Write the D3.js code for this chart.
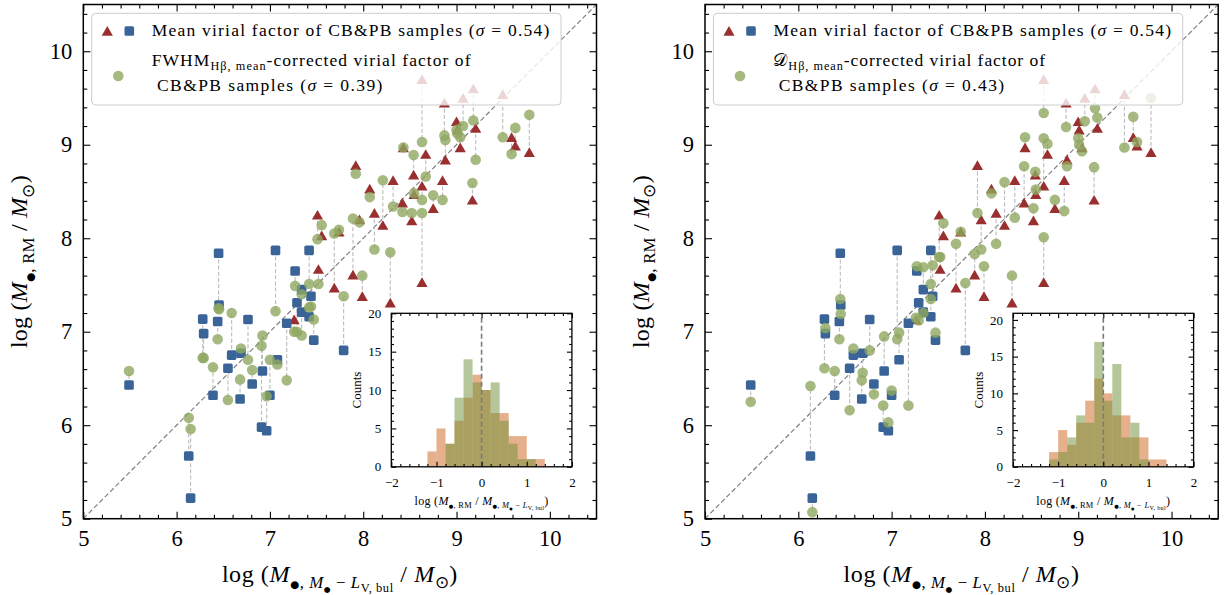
<!DOCTYPE html>
<html><head><meta charset="utf-8">
<script src="https://cdn.jsdelivr.net/npm/d3@7"></script>
<style>
body{margin:0;background:#fff}
svg{display:block}
text{font-family:"Liberation Serif","Times New Roman",serif;fill:#000}
</style>
</head><body>
<svg id="c" width="1225" height="595"></svg>
<script>
// ---------------- DATA ----------------
// log M_BH from the M-L_V,bul relation (x), for each object
const bulgeMass = [
 5.49,6.13,6.15,6.28,6.29,6.39,6.45,6.455,6.44,6.55,
 6.59,6.69,6.68,6.765,6.81,6.91,6.92,6.965,7.00,7.06,
 7.08,7.18,7.27,7.29,7.34,7.34,7.42,7.44,7.42,7.47,
 7.79,
 7.26,7.52,7.51,7.555,7.69,7.74,7.89,7.92,7.96,7.99,
 8.07,8.12,8.21,8.29,8.32,8.42,8.43,8.54,8.52,8.545,
 8.63,8.63,8.63,8.67,8.75,8.85,8.87,8.88,9.00,9.01,
 9.04,9.07,9.18,9.205,9.17,9.495,9.59,9.63,9.78];
// log M_BH,RM with the mean virial factor
const rmMassMean = [
 6.43,5.67,5.22,7.135,6.98,6.32,7.84,7.285,7.11,6.61,
 6.75,6.77,6.28,7.13,6.44,5.98,6.58,5.94,6.32,7.87,
 6.70,7.09,7.65,7.31,7.45,7.21,7.87,7.38,7.16,6.91,
 6.80,
 7.13,7.67,8.25,8.03,7.47,8.07,7.61,8.78,8.20,7.38,
 8.53,8.27,8.14,7.31,8.62,8.38,8.97,8.68,8.19,8.47,
 9.70,7.53,8.56,8.90,8.32,8.62,9.45,8.84,9.25,9.16,
 8.97,9.50,9.60,9.18,8.41,9.54,9.08,8.99,8.92];
// P = pseudo-bulge (square), C = classical bulge (triangle)
const sampleType = ('PPPPPPPPPPPPPPPPPPPPPPPPPPPPPPP' +
                    'CCCCCCCCCCCCCCCCCCCCCCCCCCCCCCCCCCCCCCC').split('');
// log M_BH,RM with FWHM-corrected virial factor (left panel)
const rmMassFWHM = [
 6.58,6.08,5.96,6.72,6.72,6.62,7.25,7.24,6.92,6.27,
 7.20,6.82,6.49,6.70,6.59,6.85,6.96,6.31,6.70,7.22,
 6.65,6.48,7.49,7.00,7.40,6.96,7.51,7.27,7.26,7.13,
 7.38,
 7.00,7.51,7.99,8.14,8.05,8.09,8.21,8.69,8.17,7.60,
 8.44,7.88,8.62,7.85,8.34,8.28,8.97,8.89,8.27,8.48,
 9.03,8.27,8.41,8.66,8.46,8.41,9.10,9.05,9.16,9.12,
 9.08,9.20,9.26,8.84,8.59,9.08,8.90,9.18,9.32];
// log M_BH,RM with D-corrected virial factor (right panel)
const rmMassD = [
 6.25,6.42,5.07,6.61,7.04,6.58,7.35,7.19,6.92,6.16,
 6.82,6.56,6.48,6.80,6.33,6.21,6.95,6.03,6.37,6.92,
 6.99,6.21,7.70,7.12,7.69,7.20,7.51,7.71,7.35,6.99,
 7.52,
 7.15,7.80,7.80,8.16,7.94,8.07,7.83,8.27,7.88,7.70,
 8.48,7.94,8.60,7.60,8.22,8.77,9.08,8.71,8.32,8.52,
 9.34,8.01,9.07,9.01,8.41,8.29,9.19,8.77,9.07,9.00,
 8.93,9.25,9.39,9.29,8.76,8.97,9.30,9.03,9.50];

// histogram of log(M_RM / M_bul-relation)
const binEdges  = [-1.2,-1.0,-0.8,-0.6,-0.4,-0.2,0,0.2,0.4,0.6,0.8,1.0,1.2,1.4];
const histMean  = [2,5,3,6,9,12,10,7,7,4,4,1,1];
const histFWHM  = [0,0,3,9,14,11,10,11,6,3,1,1,0];
const histD     = [1,2,4,7,6,17,9,14,4,6,1,0,0];

const axisTicks      = [5,6,7,8,9,10];
const axisTickLabels = ['5','6','7','8','9','10'];
const insetXTicks    = [-2,-1,0,1,2];
const insetXLabels   = ['\u22122','\u22121','0','1','2'];
const insetYTicks    = [0,5,10,15,20];
const insetYLabels   = ['0','5','10','15','20'];
const sigmaMean = '0.54', sigmaFWHM = '0.39', sigmaD = '0.43';

// ---------------- DRAWING ----------------
const svg = d3.select('#c');
const COL_TRI = '#9a2f2f', COL_SQ = '#3a6497', COL_CIR = '#8ea760';
const BUL = {t: '\u25cf', k: 0.62, f: 'DejaVu Sans, sans-serif'};

function rich(parent, x, y, segs, size, anchor, transform) {
  const t = parent.append('text').attr('x', x).attr('y', y)
    .attr('font-size', size).attr('text-anchor', anchor || 'start');
  if (transform) t.attr('transform', transform);
  let cur = 0;
  segs.forEach(s => {
    const lv = s.l || 0;
    const shift = [0, 0.26, 0.42][lv] * size;
    const fs = [1, 0.7, 0.52][lv] * size * (s.k || 1);
    const sp = t.append('tspan').attr('dy', (shift - cur).toFixed(2))
      .attr('font-size', fs.toFixed(2)).text(s.t);
    if (s.i) sp.attr('font-style', 'italic');
    if (s.f) sp.attr('font-family', s.f);
    cur = shift;
  });
  return t;
}
function fit(t, target) {
  const w = t.node().getBBox().width;
  const n = t.text().length;
  if (w > 0 && n > 1) t.attr('letter-spacing', ((target - w) / n).toFixed(3));
}
function styleAxis(sel, fs) {
  sel.attr('font-size', fs).attr('font-family', null);
  sel.select('.domain').remove();
  sel.selectAll('.tick line').attr('stroke', '#000').attr('stroke-width', 1.1);
}
function boxAxes(g, x, y, o) {
  const [X0, X1] = x.range(), [Y0, Y1] = y.range();
  const defs = [
    ['axisBottom', x, `translate(0,${Y0})`, o.xMaj, o.xLab, o.xMin],
    ['axisTop', x, `translate(0,${Y1})`, o.xMaj, null, o.xMin],
    ['axisLeft', y, `translate(${X0},0)`, o.yMaj, o.yLab, o.yMin],
    ['axisRight', y, `translate(${X1},0)`, o.yMaj, null, o.yMin]];
  defs.forEach(([fn, sc, tr, maj, lab, mn]) => {
    const a = d3[fn](sc).tickValues(maj).tickSize(-o.majLen)
      .tickPadding(fn === 'axisBottom' ? o.padX : o.padY)
      .tickFormat(lab ? (d, i) => lab[i] : () => '');
    styleAxis(g.append('g').attr('transform', tr).call(a), o.fs);
    const b = d3[fn](sc).tickValues(mn).tickSize(-o.minLen).tickFormat(() => '');
    styleAxis(g.append('g').attr('transform', tr).call(b), o.fs);
  });
  g.append('rect').attr('x', X0).attr('y', Y1).attr('width', X1 - X0).attr('height', Y0 - Y1)
    .attr('fill', 'none').attr('stroke', '#000').attr('stroke-width', o.frame || 1.5);
}

function panel(o) {
  const g = svg.append('g');
  const x = d3.scaleLinear().domain([5, 10.5]).range([o.left, o.left + 513.2]);
  const y = d3.scaleLinear().domain([5, 10.5]).range([518.7, 4.5]);
  const idx = d3.range(bulgeMass.length);

  g.append('line').attr('x1', x(5)).attr('y1', y(5)).attr('x2', x(10.5)).attr('y2', y(10.5))
    .attr('stroke', '#808080').attr('stroke-width', 1.2).attr('stroke-dasharray', '5,2.6');

  g.append('g').selectAll('line').data(idx).join('line')
    .attr('x1', i => x(bulgeMass[i])).attr('x2', i => x(bulgeMass[i]))
    .attr('y1', i => y(rmMassMean[i])).attr('y2', i => y(o.corr[i]))
    .attr('stroke', '#bcbcbc').attr('stroke-width', 1.1).attr('stroke-dasharray', '4,2.2');

  const tri = d3.symbol(d3.symbolTriangle, 54);
  g.append('g').selectAll('path').data(idx.filter(i => sampleType[i] === 'C')).join('path')
    .attr('d', tri).attr('fill', COL_TRI)
    .attr('transform', i => `translate(${x(bulgeMass[i])},${y(rmMassMean[i]) + 1.5})`);
  g.append('g').selectAll('rect').data(idx.filter(i => sampleType[i] === 'P')).join('rect')
    .attr('x', i => x(bulgeMass[i]) - 4.8).attr('y', i => y(rmMassMean[i]) - 4.8)
    .attr('width', 9.6).attr('height', 9.6).attr('rx', 1.6).attr('fill', COL_SQ);
  g.append('g').selectAll('circle').data(idx).join('circle')
    .attr('cx', i => x(bulgeMass[i])).attr('cy', i => y(o.corr[i])).attr('r', 5.3)
    .attr('fill', COL_CIR).attr('fill-opacity', 0.8);

  // legend
  const L = o.left;
  const lg = g.append('g');
  lg.append('rect').attr('x', L + 8.4).attr('y', 13.3).attr('width', 469.3).attr('height', 91.7)
    .attr('rx', 4).attr('fill', '#fff').attr('fill-opacity', 0.8)
    .attr('stroke', '#cccccc').attr('stroke-width', 1);
  lg.append('path').attr('d', d3.symbol(d3.symbolTriangle, 54)).attr('fill', COL_TRI)
    .attr('transform', `translate(${L + 24},${32.5})`);
  lg.append('rect').attr('x', L + 46 - 4.8).attr('y', 31 - 4.8).attr('width', 9.6).attr('height', 9.6)
    .attr('rx', 1.6).attr('fill', COL_SQ);
  lg.append('circle').attr('cx', L + 35).attr('cy', 76).attr('r', 5.3)
    .attr('fill', COL_CIR).attr('fill-opacity', 0.8);
  const t1 = rich(lg, L + 68.4, 35.5, [{t: 'Mean virial factor of CB&PB samples ('}, {t: '\u03c3', i: 1}, {t: ' = ' + sigmaMean + ')'}], 17.5);
  fit(t1, 399);
  const t2 = rich(lg, L + 68.4, 65.7, o.leg2, 17.5);
  fit(t2, o.leg2w);
  const t3 = rich(lg, L + 73.7, 90.7, [{t: 'CB&PB samples ('}, {t: '\u03c3', i: 1}, {t: ' = ' + o.sigma + ')'}], 17.5);
  fit(t3, 227);

  boxAxes(g, x, y, {
    xMaj: axisTicks, yMaj: axisTicks, xLab: axisTickLabels, yLab: axisTickLabels,
    xMin: d3.range(50, 105, 2).filter(v => v % 10).map(v => v / 10),
    yMin: d3.range(50, 105, 2).filter(v => v % 10).map(v => v / 10),
    majLen: 7, minLen: 4, fs: 22.5, padX: 11, padY: 11
  });

  // axis labels
  const xl = rich(g, (x.range()[0] + x.range()[1]) / 2, 582,
    [{t: 'log ('}, {t: 'M', i: 1}, Object.assign({l: 1}, BUL), {t: ', ', l: 1}, {t: 'M', i: 1, l: 1},
     Object.assign({l: 2}, BUL),
     {t: ' \u2212 ', l: 1}, {t: 'L', i: 1, l: 1}, {t: 'V, bul', l: 2}, {t: ' / '}, {t: 'M', i: 1},
     {t: '\u2299', l: 1}, {t: ')'}], 24, 'middle');
  fit(xl, 236);
  const yl = rich(g, 0, 0,
    [{t: 'log ('}, {t: 'M', i: 1}, Object.assign({l: 1}, BUL), {t: ', RM', l: 1}, {t: ' / '}, {t: 'M', i: 1},
     {t: '\u2299', l: 1}, {t: ')'}], 24, 'middle',
    `translate(${o.left - 56},261.6) rotate(-90)`);
  fit(yl, 173);

  // inset histogram
  const ig = g.append('g');
  const ix = d3.scaleLinear().domain([-2, 2]).range([o.left + 308, o.left + 488.6]);
  const iy = d3.scaleLinear().domain([0, o.ymax]).range([466.8, 313.3]);
  ig.append('rect').attr('x', ix(-2)).attr('y', iy(o.ymax)).attr('width', ix(2) - ix(-2))
    .attr('height', iy(0) - iy(o.ymax)).attr('fill', '#fff');
  const bins = d3.range(histMean.length);
  ig.append('g').selectAll('rect').data(bins).join('rect')
    .attr('x', i => ix(binEdges[i])).attr('width', i => ix(binEdges[i + 1]) - ix(binEdges[i]))
    .attr('y', i => iy(histMean[i])).attr('height', i => iy(0) - iy(histMean[i]))
    .attr('fill', '#cd6119').attr('fill-opacity', 0.5);
  ig.append('g').selectAll('rect').data(bins).join('rect')
    .attr('x', i => ix(binEdges[i])).attr('width', i => ix(binEdges[i + 1]) - ix(binEdges[i]))
    .attr('y', i => iy(o.hist[i])).attr('height', i => iy(0) - iy(o.hist[i]))
    .attr('fill', '#6b8f35').attr('fill-opacity', 0.5);
  ig.append('line').attr('x1', ix(0)).attr('x2', ix(0)).attr('y1', iy(0)).attr('y2', iy(o.ymax))
    .attr('stroke', '#7a7a7a').attr('stroke-width', 1.6).attr('stroke-dasharray', '5,3');
  boxAxes(ig, ix, iy, {
    xMaj: insetXTicks, yMaj: insetYTicks, xLab: insetXLabels, yLab: insetYLabels,
    xMin: d3.range(-20, 21, 2).filter(v => v % 10).map(v => v / 10),
    yMin: d3.range(0, 21).filter(v => v % 5),
    majLen: 5, minLen: 2.7, fs: 13, padX: 11, padY: 10, frame: 1.3
  });
  rich(ig, 0, 0, [{t: 'Counts'}], 13, 'middle',
    `translate(${ix(-2) - 30},${(iy(0) + iy(o.ymax)) / 2}) rotate(-90)`);
  const il = rich(ig, (ix(-2) + ix(2)) / 2, 504.5,
    [{t: 'log ('}, {t: 'M', i: 1}, Object.assign({l: 1}, BUL), {t: ', RM', l: 1}, {t: ' / '}, {t: 'M', i: 1},
     Object.assign({l: 1}, BUL), {t: ', ', l: 1},
     {t: 'M', i: 1, l: 1}, Object.assign({l: 2}, BUL), {t: ' \u2212 ', l: 1}, {t: 'L', i: 1, l: 1},
     {t: 'V, bul', l: 2}, {t: ')'}], 12, 'middle');
  fit(il, 134);
}

panel({
  left: 83.3, corr: rmMassFWHM, hist: histFWHM, ymax: 20, sigma: sigmaFWHM,
  leg2: [{t: 'FWHM'}, {t: 'H\u03b2, mean', l: 1}, {t: '-corrected virial factor of'}], leg2w: 320
});
panel({
  left: 705, corr: rmMassD, hist: histD, ymax: 20.9, sigma: sigmaD,
  leg2: [{t: '\ud835\udc9f', f: 'DejaVu Serif, DejaVu Sans, serif'}, {t: 'H\u03b2, mean', l: 1}, {t: '-corrected virial factor of'}], leg2w: 273.7
});
</script>
</body></html>
